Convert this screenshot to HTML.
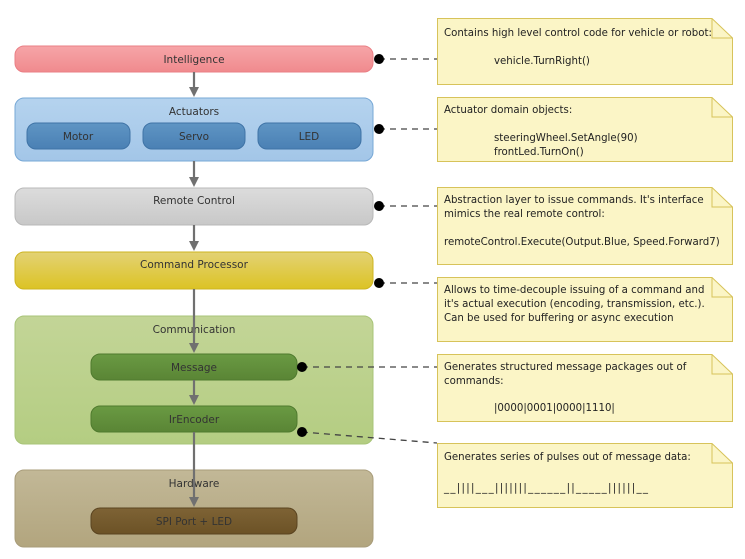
<!DOCTYPE html>
<html><head><meta charset="utf-8"><style>
body{margin:0;background:#fff}
svg{display:block}
text{font-family:"DejaVu Sans","Liberation Sans",sans-serif;font-size:10.5px;fill:#333}
.n text{fill:#222;font-size:10.2px}
</style></head><body>
<svg width="745" height="559" viewBox="0 0 745 559">
<defs>
<linearGradient id="gr" x1="0" y1="0" x2="0" y2="1"><stop offset="0" stop-color="#f6a5a8"/><stop offset="1" stop-color="#f08a8e"/></linearGradient>
<linearGradient id="gb" x1="0" y1="0" x2="0" y2="1"><stop offset="0" stop-color="#b5d3ee"/><stop offset="1" stop-color="#a3c6e8"/></linearGradient>
<linearGradient id="gbp" x1="0" y1="0" x2="0" y2="1"><stop offset="0" stop-color="#5f95c4"/><stop offset="1" stop-color="#4a80b4"/></linearGradient>
<linearGradient id="gg" x1="0" y1="0" x2="0" y2="1"><stop offset="0" stop-color="#dcdcdc"/><stop offset="1" stop-color="#c8c8c8"/></linearGradient>
<linearGradient id="gy" x1="0" y1="0" x2="0" y2="1"><stop offset="0" stop-color="#e3d274"/><stop offset="1" stop-color="#dcc324"/></linearGradient>
<linearGradient id="ggr" x1="0" y1="0" x2="0" y2="1"><stop offset="0" stop-color="#c3d597"/><stop offset="1" stop-color="#b4cd82"/></linearGradient>
<linearGradient id="ggp" x1="0" y1="0" x2="0" y2="1"><stop offset="0" stop-color="#6a9a43"/><stop offset="1" stop-color="#5a8535"/></linearGradient>
<linearGradient id="gh" x1="0" y1="0" x2="0" y2="1"><stop offset="0" stop-color="#c2b897"/><stop offset="1" stop-color="#b2a57e"/></linearGradient>
<linearGradient id="ghp" x1="0" y1="0" x2="0" y2="1"><stop offset="0" stop-color="#7e6335"/><stop offset="1" stop-color="#6c5226"/></linearGradient>
</defs>
<rect x="15" y="46" width="358" height="26" rx="9" fill="url(#gr)" stroke="#ea7f85"/>
<text x="194" y="63" text-anchor="middle">Intelligence</text>
<rect x="15" y="98" width="358" height="63" rx="9" fill="url(#gb)" stroke="#77a8d6"/>
<text x="194" y="115" text-anchor="middle">Actuators</text>
<rect x="27" y="123" width="103" height="26" rx="9" fill="url(#gbp)" stroke="#3f73a6"/><text x="78" y="140" text-anchor="middle">Motor</text>
<rect x="143" y="123" width="102" height="26" rx="9" fill="url(#gbp)" stroke="#3f73a6"/><text x="194" y="140" text-anchor="middle">Servo</text>
<rect x="258" y="123" width="103" height="26" rx="9" fill="url(#gbp)" stroke="#3f73a6"/><text x="309" y="140" text-anchor="middle">LED</text>
<rect x="15" y="188" width="358" height="37" rx="9" fill="url(#gg)" stroke="#b8b8b8"/>
<text x="194" y="204" text-anchor="middle">Remote Control</text>
<rect x="15" y="252" width="358" height="37" rx="9" fill="url(#gy)" stroke="#cdb420"/>
<text x="194" y="268" text-anchor="middle">Command Processor</text>
<rect x="15" y="316" width="358" height="128" rx="9" fill="url(#ggr)" stroke="#a8c478"/>
<text x="194" y="333" text-anchor="middle">Communication</text>
<rect x="91" y="354" width="206" height="26" rx="9" fill="url(#ggp)" stroke="#4f7a2e"/><text x="194" y="371" text-anchor="middle">Message</text>
<rect x="91" y="406" width="206" height="26" rx="9" fill="url(#ggp)" stroke="#4f7a2e"/><text x="194" y="423" text-anchor="middle">IrEncoder</text>
<rect x="15" y="470" width="358" height="77" rx="9" fill="url(#gh)" stroke="#a89c7a"/>
<text x="194" y="487" text-anchor="middle">Hardware</text>
<rect x="91" y="508" width="206" height="26" rx="9" fill="url(#ghp)" stroke="#5a4420"/><text x="194" y="525" text-anchor="middle">SPI Port + LED</text>
<!-- connectors -->
<g stroke="#707070" stroke-width="2.2" fill="#707070">
<line x1="194" y1="72" x2="194" y2="88"/><polygon points="189,87 199,87 194,97" stroke="none"/>
<line x1="194" y1="161" x2="194" y2="178"/><polygon points="189,177 199,177 194,187" stroke="none"/>
<line x1="194" y1="225" x2="194" y2="242"/><polygon points="189,241 199,241 194,251" stroke="none"/>
<line x1="194" y1="289" x2="194" y2="344"/><polygon points="189,343 199,343 194,353" stroke="none"/>
<line x1="194" y1="380" x2="194" y2="396"/><polygon points="189,395 199,395 194,405" stroke="none"/>
<line x1="194" y1="432" x2="194" y2="498"/><polygon points="189,497 199,497 194,507" stroke="none"/>
</g>
<!-- dashed links -->
<g stroke="#444" stroke-width="1.3" stroke-dasharray="6,5" fill="none">
<line x1="379" y1="59" x2="437" y2="59"/>
<line x1="379" y1="129" x2="437" y2="129"/>
<line x1="379" y1="206" x2="437" y2="206"/>
<line x1="379" y1="283" x2="437" y2="283"/>
<line x1="302" y1="367" x2="437" y2="367"/>
<line x1="302" y1="432" x2="437" y2="443"/>
</g>
<g fill="#000">
<circle cx="379" cy="59" r="5"/><circle cx="379" cy="129" r="5"/><circle cx="379" cy="206" r="5"/><circle cx="379" cy="283" r="5"/><circle cx="302" cy="367" r="5"/><circle cx="302" cy="432" r="5"/>
</g>
<!-- notes -->
<g fill="#fbf5c6" stroke="#d7c35a" stroke-width="1">
<path d="M437.5,18.5 H712 L732.5,38 V84.5 H437.5 Z"/><path d="M712,18.5 V38 H732.5" fill="none"/>
<path d="M437.5,97.5 H712 L732.5,117 V161.5 H437.5 Z"/><path d="M712,97.5 V117 H732.5" fill="none"/>
<path d="M437.5,187.5 H712 L732.5,207 V264.5 H437.5 Z"/><path d="M712,187.5 V207 H732.5" fill="none"/>
<path d="M437.5,277.5 H712 L732.5,297 V341.5 H437.5 Z"/><path d="M712,277.5 V297 H732.5" fill="none"/>
<path d="M437.5,354.5 H712 L732.5,374 V421.5 H437.5 Z"/><path d="M712,354.5 V374 H732.5" fill="none"/>
<path d="M437.5,443.5 H712 L732.5,463 V507.5 H437.5 Z"/><path d="M712,443.5 V463 H732.5" fill="none"/>
</g>
<g class="n">
<text x="444" y="36">Contains high level control code for vehicle or robot:</text>
<text x="494" y="64">vehicle.TurnRight()</text>
<text x="444" y="113">Actuator domain objects:</text>
<text x="494" y="141">steeringWheel.SetAngle(90)</text>
<text x="494" y="155">frontLed.TurnOn()</text>
<text x="444" y="203">Abstraction layer to issue commands. It's interface</text>
<text x="444" y="217">mimics the real remote control:</text>
<text x="444" y="245">remoteControl.Execute(Output.Blue, Speed.Forward7)</text>
<text x="444" y="293">Allows to time-decouple issuing of a command and</text>
<text x="444" y="307">it's actual execution (encoding, transmission, etc.).</text>
<text x="444" y="321">Can be used for buffering or async execution</text>
<text x="444" y="370">Generates structured message packages out of</text>
<text x="444" y="384">commands:</text>
<text x="494" y="411">|0000|0001|0000|1110|</text>
<text x="444" y="460">Generates series of pulses out of message data:</text>
<text x="444" y="491" textLength="204" lengthAdjust="spacing">__||||___|||||||______||_____||||||__</text>
</g>
</svg>
</body></html>
